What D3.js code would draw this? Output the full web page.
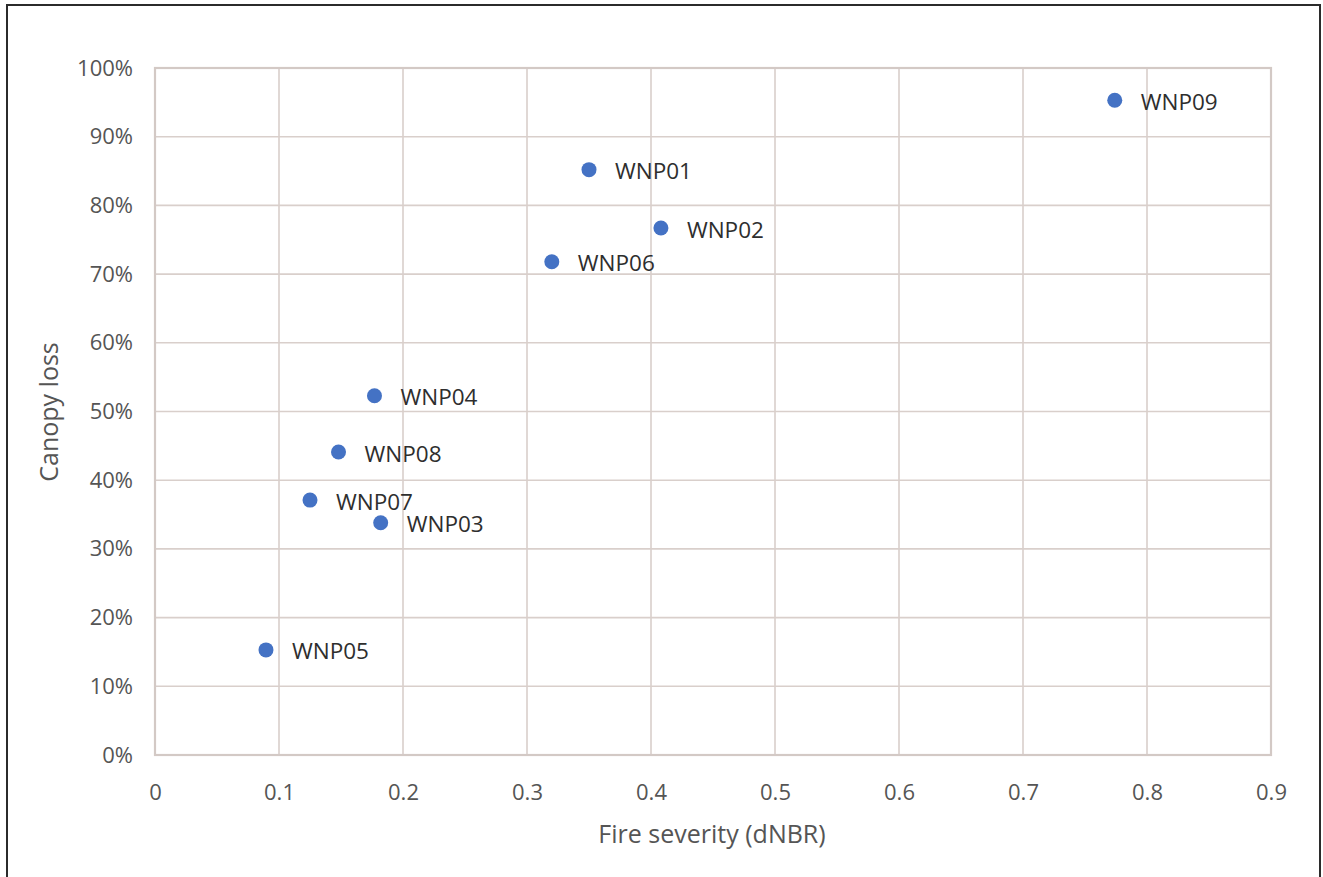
<!DOCTYPE html>
<html>
<head>
<meta charset="utf-8">
<script src="https://cdn.jsdelivr.net/npm/d3@7"></script>
<style>
  html, body { margin: 0; padding: 0; background: #fff; }
  svg { display: block; font-family: "Open Sans", "Noto Sans", sans-serif; }
</style>
</head>
<body>
<svg id="chart" width="1323" height="877"></svg>
<script>
const sites = ["WNP09", "WNP01", "WNP02", "WNP06", "WNP04", "WNP08", "WNP07", "WNP03", "WNP05"];
const severity = [0.774, 0.350, 0.408, 0.320, 0.177, 0.148, 0.125, 0.182, 0.0895];
const canopyLoss = [0.953, 0.852, 0.767, 0.718, 0.523, 0.441, 0.371, 0.338, 0.153];
const xTicks = [0, 0.1, 0.2, 0.3, 0.4, 0.5, 0.6, 0.7, 0.8, 0.9];
const yTicks = [0, 0.1, 0.2, 0.3, 0.4, 0.5, 0.6, 0.7, 0.8, 0.9, 1.0];

const svg = d3.select("#chart");
const m = { left: 155, right: 1271, top: 68, bottom: 755 };

// outer frame
svg.append("rect").attr("x", 7).attr("y", 5).attr("width", 1313).attr("height", 900)
  .attr("fill", "#fff").attr("stroke", "#2b2b2b").attr("stroke-width", 2);

const x = d3.scaleLinear().domain([0, 0.9]).range([m.left, m.right]);
const y = d3.scaleLinear().domain([0, 1]).range([m.bottom, m.top]);

const gridColor = "#d9cfcb";

// gridlines
svg.append("g").selectAll("line").data(xTicks).join("line")
  .attr("x1", d => x(d)).attr("x2", d => x(d))
  .attr("y1", m.top).attr("y2", m.bottom)
  .attr("stroke", gridColor).attr("stroke-width", 1.6);
svg.append("g").selectAll("line").data(yTicks).join("line")
  .attr("x1", m.left).attr("x2", m.right)
  .attr("y1", d => y(d)).attr("y2", d => y(d))
  .attr("stroke", gridColor).attr("stroke-width", 1.6);

// plot border
svg.append("rect").attr("x", m.left).attr("y", m.top)
  .attr("width", m.right - m.left).attr("height", m.bottom - m.top)
  .attr("fill", "none").attr("stroke", "#d3c9c5").attr("stroke-width", 2.2);

// axes (labels only)
const xAxis = d3.axisBottom(x).tickValues(xTicks).tickSize(0).tickPadding(0)
  .tickFormat(d => d === 0 ? "0" : d3.format(".1f")(d));
const gx = svg.append("g").attr("transform", `translate(0,${m.bottom + 36})`).call(xAxis);
gx.select(".domain").remove();
gx.selectAll("text").attr("font-size", 22).attr("fill", "#555")
  .attr("font-family", "'Open Sans', sans-serif").attr("dy", null)
  .attr("dominant-baseline", "central");

const yAxis = d3.axisLeft(y).tickValues(yTicks).tickSize(0).tickPadding(0)
  .tickFormat(d3.format(".0%"));
const gy = svg.append("g").attr("transform", `translate(${m.left - 22},-2)`).call(yAxis);
gy.select(".domain").remove();
gy.selectAll("text").attr("font-size", 22).attr("fill", "#555")
  .attr("font-family", "'Open Sans', sans-serif").attr("dy", null)
  .attr("dominant-baseline", "central");

// axis titles
svg.append("text").attr("x", 712).attr("y", 833).attr("text-anchor", "middle")
  .attr("dominant-baseline", "central").attr("font-size", 25).attr("fill", "#555")
  .text("Fire severity (dNBR)");
svg.append("text").attr("transform", "translate(48,412) rotate(-90)")
  .attr("text-anchor", "middle").attr("dominant-baseline", "central")
  .attr("font-size", 25).attr("fill", "#555").text("Canopy loss");

// points
const pts = sites.map((s, i) => ({ s, x: severity[i], y: canopyLoss[i] }));
svg.append("g").selectAll("circle").data(pts).join("circle")
  .attr("cx", d => x(d.x)).attr("cy", d => y(d.y)).attr("r", 7.5)
  .attr("fill", "#4472C4");
svg.append("g").selectAll("text").data(pts).join("text")
  .attr("x", d => x(d.x) + 26).attr("y", d => y(d.y) + 1)
  .attr("dominant-baseline", "central").attr("font-size", 22.5).attr("fill", "#2e2e2e")
  .text(d => d.s);
</script>
</body>
</html>
